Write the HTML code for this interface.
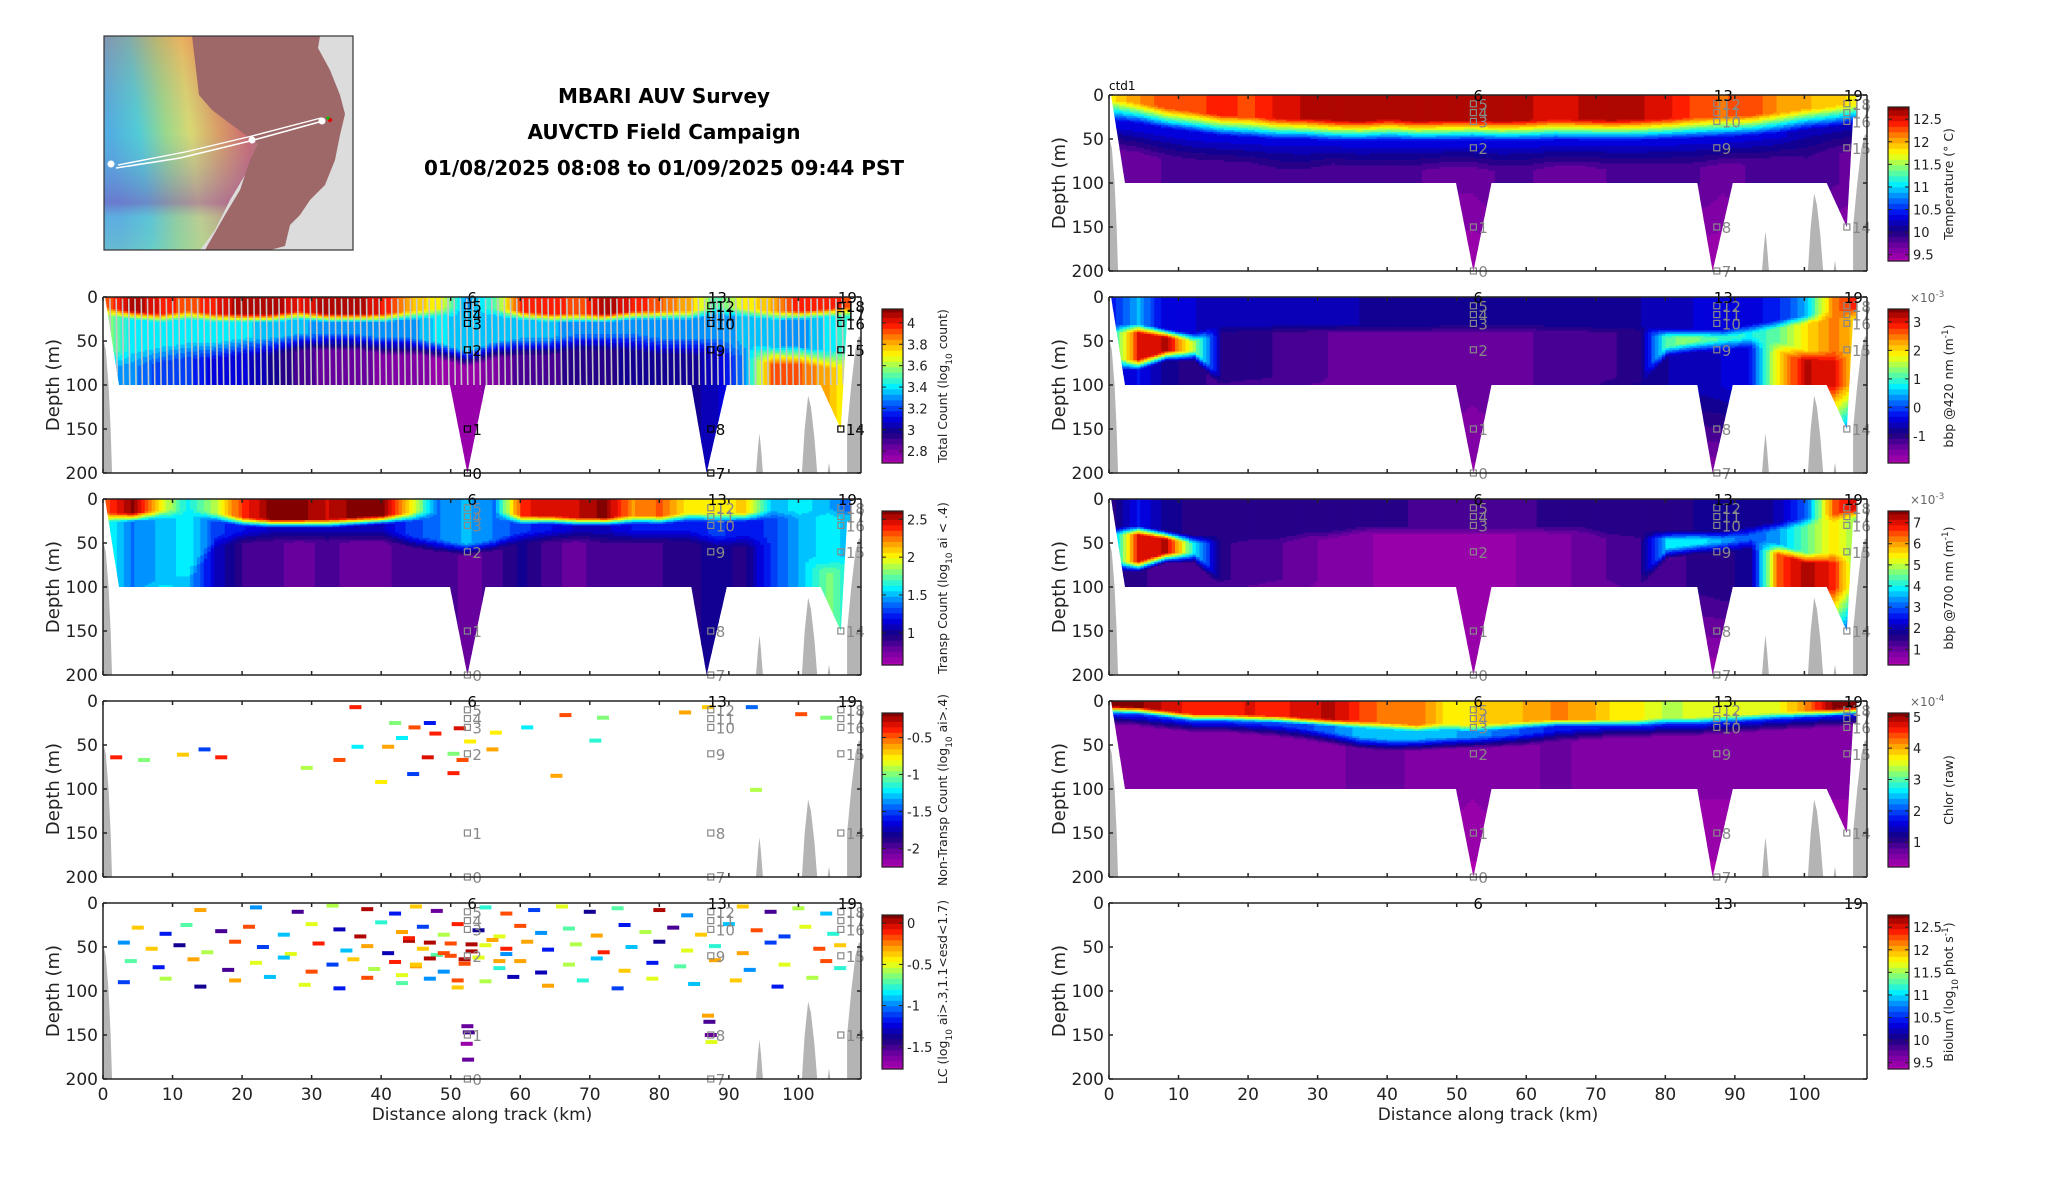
<!DOCTYPE html>
<html><head><meta charset="utf-8"><style>
html,body{margin:0;padding:0;background:#fff;}
svg{display:block;font-family:"DejaVu Sans","Liberation Sans",sans-serif;}
</style></head><body>
<svg id="fig" width="2052" height="1188" viewBox="0 0 2052 1188" xmlns="http://www.w3.org/2000/svg">
<rect x="0" y="0" width="2052" height="1188" fill="#fff"/>
<g>
  <clipPath id="mapclip"><rect x="104" y="36" width="249" height="214"/></clipPath>
  <defs>
    <linearGradient id="bathy" x1="0" y1="0.2" x2="1" y2="0.05">
      <stop offset="0" stop-color="#40a8e0"/>
      <stop offset="0.18" stop-color="#40d0d0"/>
      <stop offset="0.35" stop-color="#a0e070"/>
      <stop offset="0.5" stop-color="#f0e050"/>
      <stop offset="0.68" stop-color="#f09040"/>
      <stop offset="0.85" stop-color="#e05050"/>
      <stop offset="1" stop-color="#a06868"/>
    </linearGradient>
    <linearGradient id="bathy2" x1="0" y1="0" x2="0" y2="1">
      <stop offset="0" stop-color="#e06060" stop-opacity="0.35"/>
      <stop offset="0.45" stop-color="#60b0e8" stop-opacity="0.15"/>
      <stop offset="0.78" stop-color="#8050c0" stop-opacity="0.55"/>
      <stop offset="0.85" stop-color="#70b0e0" stop-opacity="0.4"/>
      <stop offset="1" stop-color="#80c8c0" stop-opacity="0.5"/>
    </linearGradient>
  </defs>
  <g clip-path="url(#mapclip)">
    <rect x="104" y="36" width="249" height="214" fill="#dcdcdc"/>
    <polygon points="104,36 200,36 215,110 250,125 262,145 245,175 230,200 215,230 200,250 104,250" fill="url(#bathy)" opacity="0.9"/>
    <polygon points="104,36 200,36 215,110 250,125 262,145 245,175 230,200 215,230 200,250 104,250" fill="url(#bathy2)"/>
    <polygon points="192,36 320,36 318,48 330,70 340,95 345,114 340,135 335,160 325,185 310,200 300,215 290,225 285,246 270,250 205,250 225,215 240,190 250,160 258,144 232,125 212,110 199,95" fill="#9e6868"/>
    <polygon points="320,36 353,36 353,250 290,250 300,235 330,215 340,190 345,150 350,114 345,80 335,55" fill="#dcdcdc"/>
    <polyline points="116,168 180,158 250,141 323,121" fill="none" stroke="#fff" stroke-width="1.6"/>
    <polyline points="118,165 185,152 252,136 321,118" fill="none" stroke="#fff" stroke-width="1.4"/>
    <circle cx="111" cy="164" r="3.5" fill="#fff"/>
    <circle cx="252" cy="140" r="3.5" fill="#fff"/>
    <circle cx="322" cy="121" r="3.5" fill="#fff"/>
    <circle cx="330" cy="120" r="2.2" fill="#e00000"/>
    <circle cx="328" cy="118" r="1.6" fill="#00c000"/>
  </g>
  <rect x="104" y="36" width="249" height="214" fill="none" stroke="#333" stroke-width="1.2"/>
</g>
<g font-weight="bold" font-size="20" text-anchor="middle" fill="#000">
  <text x="664" y="103">MBARI AUV Survey</text>
  <text x="664" y="139">AUVCTD Field Campaign</text>
  <text x="664" y="175">01/08/2025 08:08 to 01/09/2025 09:44 PST</text>
</g>
<g id="panels"></g>
</svg>
<script>
// ---------- shared data ----------
const colKm = [0,4,8,12,16,20,24,28,32,36,40,44,48,52,56,60,64,68,72,76,80,84,88,92,96,100,104,108];
const xTicks = [0,10,20,30,40,50,60,70,80,90,100];
const yTicks = [0,50,100,150,200];
const stationKm = [52.4,52.4,52.4,52.4,52.4,52.4,52.4, 87.4,87.4,87.4,87.4,87.4,87.4,87.4, 106.1,106.1,106.1,106.1,106.1,106.1];
const stationDepth = [200,150,60,30,20,10,0, 200,150,60,30,20,10,0, 150,60,30,20,10,0];
const stationLabel = ["0","1","2","3","4","5","6","7","8","9","10","11","12","13","14","15","16","17","18","19"];

// Panel 1: Total Count
const tcSurf = [3.9,4.1,4.0,3.9,4.0,4.1,4.1,4.0,4.1,4.1,4.0,3.8,3.7,3.3,3.5,4.0,4.0,3.9,4.1,4.0,3.9,3.8,3.5,3.7,3.8,4.0,4.0,3.9];
const tcD1 = [10,15,18,15,18,18,18,15,18,18,18,15,12,10,12,15,18,18,18,15,15,15,10,12,15,15,12,10];
const tcMid = [3.6,3.4,3.4,3.4,3.4,3.4,3.35,3.35,3.3,3.3,3.3,3.3,3.4,3.35,3.35,3.35,3.35,3.3,3.3,3.3,3.3,3.3,3.3,3.35,3.35,3.3,3.4,3.5];
const tcD2 = [60,60,55,50,50,45,45,40,40,40,45,45,50,60,50,45,45,40,40,40,45,45,45,50,55,55,60,60];
const tcDeep = [3.3,3.3,3.2,3.2,3.1,3.1,3.0,2.9,2.85,2.85,2.8,2.8,2.75,2.72,2.8,2.9,2.9,2.95,2.95,3.0,3.0,3.0,3.05,3.3,3.9,3.9,3.8,3.6];
const tcTicks = [2.8,3,3.2,3.4,3.6,3.8,4];
// Panel 2: Transp Count
const trSurf = [2.3,2.6,2.0,1.6,1.9,2.4,2.6,2.6,2.5,2.6,2.6,2.0,1.4,1.5,1.4,2.4,2.5,2.5,2.6,2.2,2.3,2.0,2.0,2.1,1.5,1.6,1.5,1.3];
const trD1 = [15,15,12,10,15,20,22,22,22,20,18,15,10,10,12,18,18,20,20,18,18,15,15,15,12,12,10,10];
const trMid = [1.7,1.4,1.5,1.6,1.3,1.2,1.1,1.1,1.1,1.1,1.1,1.3,1.4,1.5,1.4,1.3,1.2,1.1,1.1,1.2,1.2,1.2,1.3,1.2,1.3,1.5,1.6,1.5];
const trD2 = [100,100,90,80,40,35,35,35,35,35,35,40,45,50,45,35,35,35,35,35,35,35,40,40,40,60,70,60];
const trDeep = [1.7,1.7,1.6,1.5,1.1,0.9,0.85,0.8,0.85,0.8,0.8,0.9,0.9,0.8,0.85,1.0,0.85,0.8,0.9,0.9,0.9,0.95,1.0,0.95,1.3,1.5,1.8,1.6];
const trTicks = [1,1.5,2,2.5];
// Panel 3: Non-Transp dashes
const ntX = [36.3,42,44.8,47,51.3,56.5,61,66.5,71.9,83.7,1.9,5.9,11.5,14.6,17,29.3,34,36.6,41,46.7,50.4,51.7,40,44.6,65.2,70.8,50.4,93.9,87,93.3,100.4,104,47.8,52.8,43,56];
const ntD = [7,25,30,25,31,36,30,16,19,13,64,67,61,55,64,76,67,52,52,64,60,67,92,83,85,45,82,101,7,7,15,19,37,46,42,55];
const ntV = [-0.4,-1.0,-0.5,-1.6,-0.3,-0.8,-1.2,-0.5,-1.0,-0.6,-0.4,-1.0,-0.7,-1.5,-0.4,-0.9,-0.5,-1.2,-0.6,-0.3,-1.0,-0.5,-0.8,-1.5,-0.6,-1.1,-0.4,-0.9,-0.7,-1.4,-0.5,-1.0,-0.4,-0.8,-1.2,-0.6];
const ntTicks = [-2,-1.5,-1,-0.5];
// Panel 4: LC dashes
const lcX = [14,22,28,33,38,42,45,48,55,58,62,66,70,74,80,84,92,96,100,104,
  5,9,12,17,21,26,30,34,37,40,43,46,49,51,54,57,60,63,67,71,75,78,82,86,90,94,98,101,105,
  3,7,11,15,19,23,27,31,35,38,41,44,46,48,50,53,55,58,61,64,68,72,76,80,84,88,92,96,103,106,
  4,8,13,18,22,26,30,33,36,39,42,45,47,49,52,54,57,60,63,67,71,75,79,83,88,93,98,104,106,
  3,9,14,19,24,29,34,38,43,47,51,55,59,64,69,74,79,85,91,97,102,
  52.4,52.6,52.3,52.5,87,87.2,87.4,87.5,
  44,47,50,52,56,58,45,49,53,57,43,51];
const lcD = [8,5,10,3,7,12,4,9,5,12,8,4,10,6,8,14,4,10,6,12,
  28,35,25,32,27,36,24,30,38,22,33,27,36,24,31,38,26,34,29,37,25,33,28,36,24,31,38,27,35,
  45,52,48,56,44,50,58,46,54,49,57,43,52,59,46,55,48,58,44,53,47,56,50,44,54,49,57,45,52,48,
  66,73,64,76,68,62,78,70,64,75,67,72,63,78,69,62,74,66,79,70,63,77,68,72,65,76,70,66,74,
  90,86,95,88,84,93,97,85,91,86,96,89,84,94,88,97,86,92,88,95,85,
  140,147,160,178,128,135,150,158,
  40,45,60,64,42,52,70,57,47,66,82,88];
const lcV = [-0.3,-1.0,-1.5,-0.6,0.0,-1.2,-0.4,-1.6,-0.8,-0.2,-1.1,-0.5,-1.4,-0.7,0.0,-1.0,-0.4,-1.5,-0.6,-0.9,
  -0.4,-1.2,-0.7,-1.5,-0.2,-0.9,-0.5,-1.3,0.0,-0.8,-0.3,-1.1,-0.6,-0.1,-1.4,-0.5,-0.2,-1.0,-0.7,-0.3,-1.2,-0.6,-1.5,-0.4,-0.9,-0.2,-1.1,-0.5,-0.8,
  -1.0,-0.4,-1.4,-0.6,-0.2,-1.1,-0.5,-0.1,-0.9,-0.3,-1.3,0.0,-0.4,-0.7,-0.2,0.0,-0.5,-1.0,-0.3,-1.2,-0.6,-0.1,-0.9,-1.4,-0.5,-0.8,-0.3,-1.1,-0.2,-0.4,
  -0.7,-1.2,-0.3,-1.5,-0.5,-0.9,-0.2,-1.1,-0.4,-0.6,-0.1,-0.3,0.0,-1.0,-0.2,-0.5,-0.8,-0.3,-1.3,-0.6,-0.9,-0.4,-1.2,-0.7,-0.3,-1.0,-0.5,-0.2,-0.8,
  -1.1,-0.6,-1.4,-0.3,-0.9,-0.5,-1.2,-0.2,-0.7,-1.0,-0.4,-0.6,-1.3,-0.3,-0.8,-1.1,-0.5,-0.9,-0.4,-1.2,-0.6,
  -1.6,-1.5,-1.7,-1.6,-0.3,-1.5,-1.6,-0.5,
  -0.1,0.0,-0.2,0.0,-0.3,-0.1,-0.4,-0.2,0.0,-0.3,-0.5,-0.2];
const lcTicks = [-1.5,-1,-0.5,0];
// Right 1: Temperature
const tpSurf = [11.8,12.1,12.3,12.3,12.4,12.3,12.5,12.6,12.6,12.7,12.6,12.7,12.6,12.7,12.7,12.6,12.5,12.6,12.7,12.6,12.5,12.3,12.2,12.3,12.1,12.0,11.9,11.8];
const tpD1 = [5,8,14,18,22,24,26,26,28,28,27,28,28,27,28,28,27,27,27,27,26,25,24,22,19,15,12,8];
const tpMid = [10.3,10.3,10.3,10.3,10.3,10.3,10.3,10.3,10.3,10.3,10.3,10.3,10.3,10.3,10.3,10.3,10.3,10.3,10.3,10.3,10.3,10.3,10.3,10.3,10.3,10.2,10.2,10.2];
const tpD2 = [35,40,45,50,52,54,55,56,56,58,57,57,57,57,58,57,56,56,56,56,55,54,53,50,47,43,38,34];
const tpDeep = [9.7,9.7,9.8,9.8,9.8,9.8,9.9,9.9,9.8,9.8,9.8,9.8,9.7,9.7,9.8,9.8,9.7,9.7,9.8,9.8,9.8,9.8,9.7,9.8,9.8,9.9,9.8,9.7];
const tpTicks = [9.5,10,10.5,11,11.5,12,12.5];
// Right 2: bbp 420
const b4Surf = [-0.3,0.5,-0.5,-0.5,-0.6,-0.6,-0.6,-0.6,-0.6,-0.7,-0.7,-0.7,-0.8,-0.8,-0.8,-0.8,-0.8,-0.7,-0.7,-0.7,-0.6,-0.5,-0.5,-0.4,-0.2,0.5,2.5,3.0];
const b4D1 = [30,30,35,40,30,30,30,30,30,30,30,30,30,30,30,30,30,30,30,30,35,35,35,30,25,20,15,10];
const b4Mid = [0.5,3.0,3.2,1.5,-0.9,-1.0,-1.1,-1.2,-1.3,-1.3,-1.3,-1.3,-1.3,-1.3,-1.3,-1.3,-1.2,-1.2,-1.1,-1.0,1.2,1.3,1.0,0.8,1.2,2.0,2.5,2.0];
const b4D2 = [70,70,60,60,90,90,90,90,90,90,90,90,90,90,90,90,90,90,90,90,55,50,48,45,50,60,60,60];
const b4Deep = [-0.5,-0.3,-0.8,-1.0,-1.2,-1.3,-1.3,-1.3,-1.3,-1.3,-1.3,-1.3,-1.3,-1.4,-1.3,-1.3,-1.2,-1.1,-1.0,-0.8,-0.7,-0.6,-0.5,-0.3,2.0,3.2,3.0,1.5];
const b4Ticks = [-1,0,1,2,3];
// Right 3: bbp 700
const b7Surf = [1.5,2.5,1.8,1.6,1.6,1.6,1.6,1.6,1.5,1.5,1.5,1.4,1.4,1.4,1.4,1.4,1.5,1.5,1.6,1.6,1.6,1.7,1.7,1.8,2.0,3.0,6.5,7.2];
const b7D1 = [30,30,35,40,40,40,40,35,35,30,30,30,30,30,30,30,30,30,35,35,35,35,35,30,25,20,15,10];
const b7Mid = [3.0,7.0,7.2,4.0,1.5,1.3,1.2,1.0,0.8,0.7,0.6,0.6,0.6,0.6,0.6,0.7,0.8,1.0,1.2,1.4,3.8,4.0,3.5,3.0,3.5,4.5,5.5,4.5];
const b7D2 = [70,70,60,60,90,90,90,90,90,90,90,90,90,90,90,90,90,90,90,90,55,50,48,45,50,60,60,60];
const b7Deep = [1.4,1.5,1.3,1.2,1.2,1.1,1.0,0.9,0.8,0.7,0.6,0.6,0.6,0.6,0.6,0.7,0.8,1.0,1.1,1.2,1.3,1.5,1.6,1.8,6.5,7.3,6.8,4.0];
const b7Ticks = [1,2,3,4,5,6,7];
// Right 4: Chlor
const chSurf = [5.1,5.1,4.8,4.6,4.6,4.7,4.6,4.8,4.9,4.5,4.2,4.3,3.8,3.8,3.9,4.0,4.2,4.1,3.8,3.7,3.4,3.5,3.5,3.6,3.6,4.2,5.1,5.1];
const chD1 = [5,6,10,14,14,15,16,18,20,22,24,26,24,26,24,22,20,20,20,20,18,18,16,14,12,10,8,6];
const chMid = [2,2,2,2,2,2,2,2,2.2,2.5,2.5,2.5,2.5,2.3,2.2,2,1.8,1.8,1.8,1.8,1.8,1.8,1.8,1.8,1.8,1.8,1.8,1.8];
const chD2 = [13,14,18,22,22,24,26,30,35,40,42,42,40,40,38,36,32,30,28,28,26,26,24,22,20,18,16,14];
const chDeep = [0.5,0.6,0.6,0.5,0.5,0.5,0.6,0.6,0.6,0.7,0.7,0.6,0.6,0.5,0.6,0.6,0.7,0.6,0.6,0.6,0.5,0.5,0.5,0.5,0.5,0.5,0.5,0.5];
const chTicks = [1,2,3,4,5];
const blTicks = [9.5,10,10.5,11,11.5,12,12.5];

// ---------- geometry ----------
const W = 758, H = 176, XMAX = 109;
const NS = "http://www.w3.org/2000/svg";
const root = document.getElementById('panels');
const dataPoly = [[0.3,0],[107.5,0],[107.5,25],[107.0,25],[106.1,150],[103.2,100],[89.7,100],[86.8,200],[84.6,100],[55.0,100],[52.4,200],[49.9,100],[2.3,100],[0.3,0]];
const grayLeft = [[0,47],[0.4,60],[0.8,100],[1.1,150],[1.3,200],[0,200]];
const grayPeaks = [
  [[93.9,200],[94.2,170],[94.4,155],[94.6,170],[94.9,200]],
  [[100.5,200],[100.9,150],[101.4,112],[101.8,125],[102.3,160],[102.7,200]],
  [[104.2,200],[104.4,188],[104.6,200]],
  [[107.0,200],[107.0,150],[107.6,100],[108.2,60],[108.7,45],[109,45],[109,200]]
];
const CM = [[0,[176,0,176]],[0.1,[110,0,160]],[0.2,[20,0,130]],[0.3,[0,0,235]],[0.4,[0,110,255]],[0.5,[0,240,255]],[0.6,[120,255,130]],[0.7,[255,255,0]],[0.8,[255,150,0]],[0.9,[255,20,0]],[1,[130,0,0]]];
function cmap(f){
  f = Math.max(0, Math.min(1, f));
  f = Math.round(f*28)/28;
  for (let i=1;i<CM.length;i++){
    if (f <= CM[i][0]){
      const a=CM[i-1], b=CM[i], t=(f-a[0])/(b[0]-a[0]);
      const c=a[1].map((v,k)=>Math.round(v+(b[1][k]-v)*t));
      return 'rgb('+c.join(',')+')';
    }
  }
  return 'rgb(130,0,0)';
}
function el(tag, attrs, parent){
  const e=document.createElementNS(NS,tag);
  for (const k in attrs) e.setAttribute(k, attrs[k]);
  (parent||root).appendChild(e);
  return e;
}
function interp(arr, x){
  const p = x/4; const i=Math.max(0,Math.min(arr.length-2,Math.floor(p))); const t=Math.max(0,Math.min(1,p-i));
  return arr[i]+(arr[i+1]-arr[i])*t;
}
function lerp(a,b,t){return a+(b-a)*Math.max(0,Math.min(1,t));}

let clipId = 0;
function makePanel(opt){
  const px=opt.x, py=opt.y;
  const xs = k => px + k*W/XMAX;
  const ys = d => py + d*H/200;
  const g = el('g', {});
  
  
  const cid = 'clip'+(clipId++);
  const cp = el('clipPath', {id:cid}, g);
  el('polygon', {points: dataPoly.map(p=>xs(p[0])+','+ys(p[1])).join(' ')}, cp);
  const hm = el('g', {'clip-path':'url(#'+cid+')'}, g);
  
  
  if (opt.prof){
    const P=opt.prof, vmin=opt.vmin, vmax=opt.vmax;
    const t1 = opt.t1||8, t2 = opt.t2||10;
    const step=0.5;
    for (let x=0; x<XMAX; x+=step){
      const s=interp(P.surf,x), d1=interp(P.d1,x), m=interp(P.mid,x), d2=Math.max(interp(P.d2,x), d1+t1), dp=interp(P.deep,x);
      let runStart=0, runCol=null;
      for (let d=0; d<=200; d+=2){
        let v;
        if (d<d1) v=s;
        else if (d<d1+t1) v=lerp(s,m,(d-d1)/t1);
        else if (d<d2) v=m;
        else if (d<d2+t2) v=lerp(m,dp,(d-d2)/t2);
        else v=dp;
        if (d>100 && P.bottom!==undefined) v=lerp(v,P.bottom,(d-100)/100);
        const c = (d<200)? cmap((v-vmin)/(vmax-vmin)) : null;
        if (c!==runCol){
          if (runCol){
            const r = el('rect', {x:xs(x), y:ys(runStart), width:W/XMAX*step+0.6, height:ys(d)-ys(runStart)+0.3, fill:runCol}, hm);
            
            
          }
          runCol=c; runStart=d;
        }
      }
    }
  }
  if (opt.track){
    let dstr='';
    for (let x=1.0; x<106.5; x+=0.9){ dstr += 'M'+xs(x)+','+ys(2)+' L'+xs(x+0.15)+','+ys(100)+' '; }
    const t = el('path', {d:dstr, fill:'none', stroke:'#c8c8c8', 'stroke-width':1.6}, hm);
    
    
  }
  if (opt.dashes){
    const D=opt.dashes;
    for (let i=0;i<D.x.length;i++){
      const r = el('rect', {x:xs(D.x[i])-6, y:ys(D.d[i])-2, width:12, height:4, fill:cmap((D.v[i]-opt.vmin)/(opt.vmax-opt.vmin))}, g);
      
      
    }
  }
  // bathymetry
  if (!opt.noBathy){
    const bg = el('g', {fill:'#b4b4b4'}, g);
    
    
    [grayLeft].concat(grayPeaks).forEach(poly=>{
      el('polygon', {points: poly.map(p=>xs(p[0])+','+ys(p[1])).join(' ')}, bg);
    });
  }
  // stations
  const sg = el('g', {}, g);
  
  
  const scol = opt.blackStations ? '#000' : '#888';
  for (let i=0;i<stationKm.length;i++){
    const sx=xs(stationKm[i]), sy=ys(stationDepth[i]);
    if (opt.noStations && stationDepth[i]!==0) continue;
    if (stationDepth[i]===0){
      const tt = el('text', {x:sx+(stationLabel[i].length>1?-3:0), y:sy+6, 'font-size':15, fill:'#000'}, sg);
      tt.textContent = stationLabel[i];
      continue;
    }
    el('rect', {x:sx-3, y:sy-3, width:6, height:6, fill:'none', stroke:scol, 'stroke-width':1.2}, sg);
    const tx = el('text', {x:sx+5, y:sy+6, 'font-size':15, fill:scol}, sg);
    tx.textContent = stationLabel[i];
  }
  // axes
  const ax = el('g', {stroke:'#222', 'stroke-width':1.5, fill:'none'}, g);
  
  
  el('line', {x1:px, y1:py, x2:px+W, y2:py}, ax);
  el('line', {x1:px, y1:py+H, x2:px+W, y2:py+H}, ax);
  el('line', {x1:px, y1:py, x2:px, y2:py+H}, ax);
  el('line', {x1:px+W, y1:py, x2:px+W, y2:py+H}, ax);
  xTicks.forEach(t=>{
    el('line', {x1:xs(t), y1:py+H, x2:xs(t), y2:py+H-4}, ax);
    el('line', {x1:xs(t), y1:py, x2:xs(t), y2:py+4}, ax);
  });
  yTicks.forEach(t=>{
    el('line', {x1:px, y1:ys(t), x2:px+4, y2:ys(t)}, ax);
    el('line', {x1:px+W, y1:ys(t), x2:px+W-4, y2:ys(t)}, ax);
  });
  const yl = el('g', {'font-size':17, fill:'#222', 'text-anchor':'end'}, g);
  
  
  yTicks.forEach(t=>{ const tx=el('text', {x:px-5, y:ys(t)+6}, yl); tx.textContent=String(t); });
  const yt = el('text', {x:0, y:0, 'font-size':18, fill:'#222', 'text-anchor':'middle', transform:'translate('+(px-44)+','+(py+H/2)+') rotate(-90)'}, g);
  
  
  yt.textContent = 'Depth (m)';
  if (opt.xlabels){
    const xl = el('g', {'font-size':17, fill:'#222', 'text-anchor':'middle'}, g);
    
    
    xTicks.forEach(t=>{ const tx=el('text', {x:xs(t), y:py+H+21}, xl); tx.textContent=String(t); });
    const xt = el('text', {x:px+W/2, y:py+H+41, 'font-size':17, fill:'#222', 'text-anchor':'middle'}, g);
    
    
    xt.textContent = 'Distance along track (km)';
  }
  if (opt.tag){
    const ct = el('text', {x:px, y:py-5, 'font-size':12, fill:'#000'}, g);
    
    
    ct.textContent = opt.tag;
  }
  // colorbar
  const cbx = px+W+21, cby0 = py+12, cbh = 154, cbw = 21;
  const cb = el('g', {}, g);
  
  
  const N=56;
  for (let i=0;i<N;i++){
    el('rect', {x:cbx, y:cby0+cbh*(1-(i+1)/N), width:cbw, height:cbh/N+0.6, fill:cmap((i+0.5)/N)}, cb);
  }
  el('rect', {x:cbx, y:cby0, width:cbw, height:cbh, fill:'none', stroke:'#222', 'stroke-width':1.2}, cb);
  const cy = v => cby0 + cbh*(1-(v-opt.vmin)/(opt.vmax-opt.vmin));
  opt.ticks.forEach(t=>{
    el('line', {x1:cbx, y1:cy(t), x2:cbx+4, y2:cy(t), stroke:'#222'}, cb);
    el('line', {x1:cbx+cbw, y1:cy(t), x2:cbx+cbw-4, y2:cy(t), stroke:'#222'}, cb);
    const tx = el('text', {x:cbx+cbw+4, y:cy(t)+5, 'font-size':13, fill:'#222'}, cb);
    tx.textContent = String(t);
  });
  const lab = el('text', {x:0, y:0, 'font-size':12.5, fill:'#222', 'text-anchor':'middle', transform:'translate('+(cbx+cbw+44)+','+(cby0+cbh/2)+') rotate(-90)'}, cb);
  
  
  lab.innerHTML = opt.label;
  if (opt.mult){
    const mt = el('text', {x:cbx+22, y:py+5, 'font-size':12, fill:'#666'}, cb);
    
    
    mt.innerHTML = '×10<tspan baseline-shift="super" font-size="9">'+opt.mult+'</tspan>';
  }
}
const sub = '<tspan baseline-shift="sub" font-size="9">10</tspan>';
const LX=103, RX=1109;
makePanel({name:'total-count-panel', x:LX, y:297, vmin:2.69, vmax:4.13, ticks:tcTicks, prof:{surf:tcSurf,d1:tcD1,mid:tcMid,d2:tcD2,deep:tcDeep}, t1:10, t2:20, track:true, blackStations:true, label:'Total Count (log'+sub+' count)'});
makePanel({name:'transp-count-panel', x:LX, y:499, vmin:0.575, vmax:2.61, ticks:trTicks, prof:{surf:trSurf,d1:trD1,mid:trMid,d2:trD2,deep:trDeep}, t1:10, t2:14, label:'Transp Count (log'+sub+' ai &lt; .4)'});
makePanel({name:'non-transp-count-panel', x:LX, y:701, vmin:-2.25, vmax:-0.17, ticks:ntTicks, dashes:{x:ntX,d:ntD,v:ntV}, label:'Non-Transp Count (log'+sub+' ai&gt;.4)'});
makePanel({name:'lc-panel', x:LX, y:903, vmin:-1.77, vmax:0.1, ticks:lcTicks, dashes:{x:lcX,d:lcD,v:lcV}, xlabels:true, label:'LC (log'+sub+' ai&gt;.3,1.1&lt;esd&lt;1.7)'});
makePanel({name:'temperature-panel', x:RX, y:95, vmin:9.36, vmax:12.77, ticks:tpTicks, prof:{surf:tpSurf,d1:tpD1,mid:tpMid,d2:tpD2,deep:tpDeep,bottom:9.4}, t1:24, t2:28, tag:'ctd1', label:'Temperature (° C)'});
makePanel({name:'bbp420-panel', x:RX, y:297, vmin:-1.95, vmax:3.45, ticks:b4Ticks, prof:{surf:b4Surf,d1:b4D1,mid:b4Mid,d2:b4D2,deep:b4Deep,bottom:-1.7}, t1:10, t2:12, mult:'-3', label:'bbp @420 nm (m<tspan baseline-shift="super" font-size="9">-1</tspan>)'});
makePanel({name:'bbp700-panel', x:RX, y:499, vmin:0.26, vmax:7.55, ticks:b7Ticks, prof:{surf:b7Surf,d1:b7D1,mid:b7Mid,d2:b7D2,deep:b7Deep,bottom:0.4}, t1:10, t2:12, mult:'-3', label:'bbp @700 nm (m<tspan baseline-shift="super" font-size="9">-1</tspan>)'});
makePanel({name:'chlorophyll-panel', x:RX, y:701, vmin:0.21, vmax:5.12, ticks:chTicks, prof:{surf:chSurf,d1:chD1,mid:chMid,d2:chD2,deep:chDeep,bottom:0.25}, t1:8, t2:14, mult:'-4', label:'Chlor (raw)'});
makePanel({name:'biolum-panel', x:RX, y:903, vmin:9.36, vmax:12.77, ticks:blTicks, xlabels:true, noStations:true, noBathy:true, label:'Biolum (log'+sub+' phot s<tspan baseline-shift="super" font-size="9">-1</tspan>)'});
</script>
</body></html>
